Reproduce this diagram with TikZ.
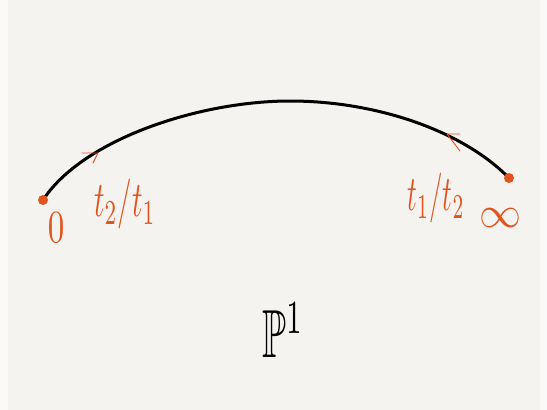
\documentclass[tikz,border=0pt]{standalone}
\usepackage{amssymb}
\definecolor{bg}{RGB}{245,243,240}
\definecolor{ink}{RGB}{226,84,30}
\tikzset{
  dot/.style={circle, fill=ink, inner sep=0pt, minimum size=10pt},
  curve/.style={draw=black, line width=3pt, line cap=round},
  tickmark/.style={draw=ink, line width=0.9pt, line cap=round, line join=round},
  lbl/.style={text=ink, inner sep=0pt},
  big/.style={text=black, inner sep=0pt}
}
\begin{document}
\begin{tikzpicture}[x=1pt,y=-1pt]
\fill[bg] (0,0) rectangle (547,410);
\fill[white!55!bg] (0,0) rectangle (8,410);
\fill[white!55!bg] (540,0) rectangle (547,410);
\useasboundingbox (0,0) rectangle (547,410);
\coordinate (zero) at (43,200);
\coordinate (inf) at (509,178);
\coordinate (top) at (290,101);
\draw[curve] (zero) .. controls (83,139) and (200,101) .. (top)
  .. controls (375,101) and (462,130) .. (inf);
\node[dot] (zerodot) at (zero) {};
\node[dot] (infdot) at (inf) {};
\draw[tickmark] (82,153) -- (98,153) -- (93,163);
\draw[tickmark] (460,134) -- (447,134) -- (460,151);
\node[lbl] (l0) at (56,228) {\scalebox{3.3}[4.6]{$0$}};
\node[lbl] (lleft) at (125,204) {\scalebox{2.9}[5]{$t_2/t_1$}};
\node[lbl] (lright) at (436,198) {\scalebox{2.7}[5]{$t_1/t_2$}};
\node[lbl] (linf) at (500,218) {\scalebox{4.2}[4.4]{$\infty$}};
\node[big] (p1) at (283,330) {\scalebox{3.9}[6.8]{$\mathbb{P}^1$}};
\end{tikzpicture}
\end{document}
